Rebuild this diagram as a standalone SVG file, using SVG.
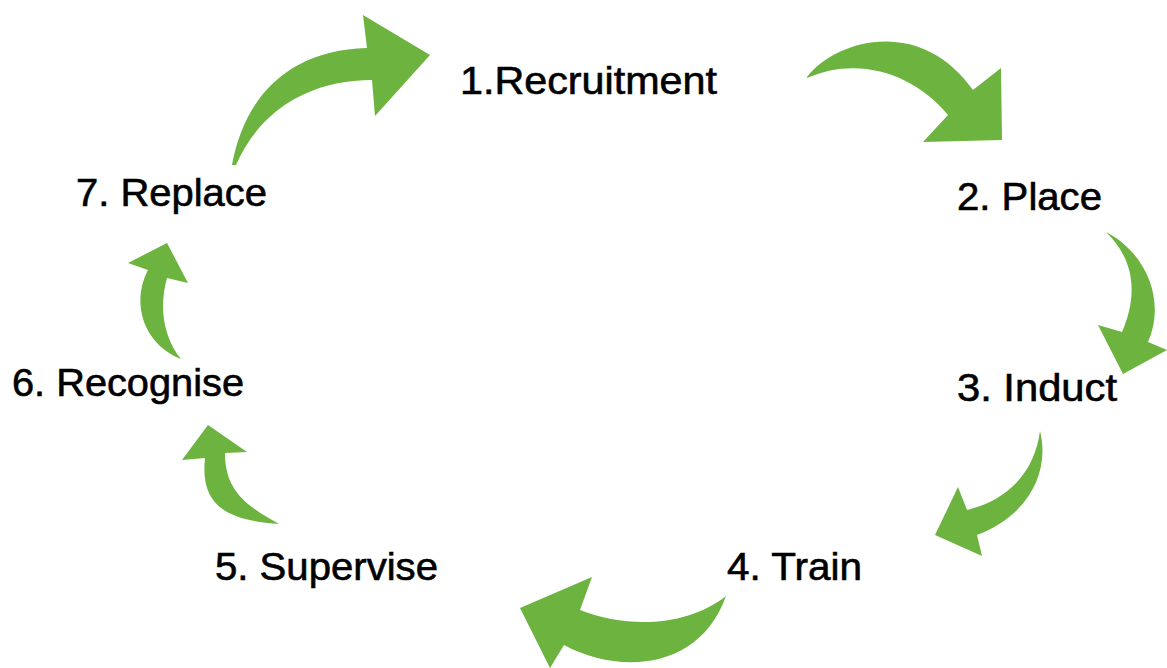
<svg xmlns="http://www.w3.org/2000/svg" width="1167" height="668" viewBox="0 0 1167 668">
  <style>
    .label { font-family: "Liberation Sans", Arial, sans-serif; font-size: 38px; fill: #000000; stroke: #000000; stroke-width: 0.6px; }
    .arrow { fill: #6cb33f; stroke: none; }
  </style>
  <rect width="1167" height="668" fill="#ffffff"/>

  <!-- curved cycle arrows -->
  <g id="connectors">
    <path class="arrow" id="arrow-replace-recruitment" d="M232,165 C245,95 290,50 367,48 L363,15 L430,55 L375,116 L372,80 C310,80 260,110 236,165 Z"/>
    <path class="arrow" id="arrow-recruitment-place" d="M807,77 C835,40 920,15 973,90 L1001,68 L1002,140 L923,142 L948,115 C915,75 860,55 807,78 Z"/>
    <path class="arrow" id="arrow-place-induct" d="M1106,232 C1150,255 1165,305 1148,342 L1167,350 L1123,374 L1098,325 L1122,332 C1138,295 1135,260 1106,232 Z"/>
    <path class="arrow" id="arrow-induct-train" d="M1040,431 C1050,470 1030,515 977,535 L982,556 L935,535 L958,487 L967,510 C1010,500 1035,470 1040,431 Z"/>
    <path class="arrow" id="arrow-train-supervise" d="M726,596 C690,625 630,630 580,610 L592,577 L520,608 L550,668 L564,645 C620,675 700,670 726,596 Z"/>
    <path class="arrow" id="arrow-supervise-recognise" d="M279,524 C225,520 200,505 205,458 L182,460 L208,425 L247,452 L225,453 C225,490 245,505 279,524 Z"/>
    <path class="arrow" id="arrow-recognise-replace" d="M181,359 C145,345 130,305 148,270 L128,263 L167,243 L188,283 L167,278 C158,310 165,340 181,359 Z"/>
  </g>

  <g id="node-recruitment"><text class="label" x="460" y="94" textLength="257" lengthAdjust="spacingAndGlyphs">1.Recruitment</text></g>
  <g id="node-place"><text class="label" x="957" y="210" textLength="145" lengthAdjust="spacingAndGlyphs">2. Place</text></g>
  <g id="node-induct"><text class="label" x="957" y="401" textLength="160" lengthAdjust="spacingAndGlyphs">3. Induct</text></g>
  <g id="node-train"><text class="label" x="727" y="580" textLength="135" lengthAdjust="spacingAndGlyphs">4. Train</text></g>
  <g id="node-supervise"><text class="label" x="215" y="580" textLength="223" lengthAdjust="spacingAndGlyphs">5. Supervise</text></g>
  <g id="node-recognise"><text class="label" x="12" y="396" textLength="232" lengthAdjust="spacingAndGlyphs">6. Recognise</text></g>
  <g id="node-replace"><text class="label" x="76" y="206" textLength="191" lengthAdjust="spacingAndGlyphs">7. Replace</text></g>
</svg>
